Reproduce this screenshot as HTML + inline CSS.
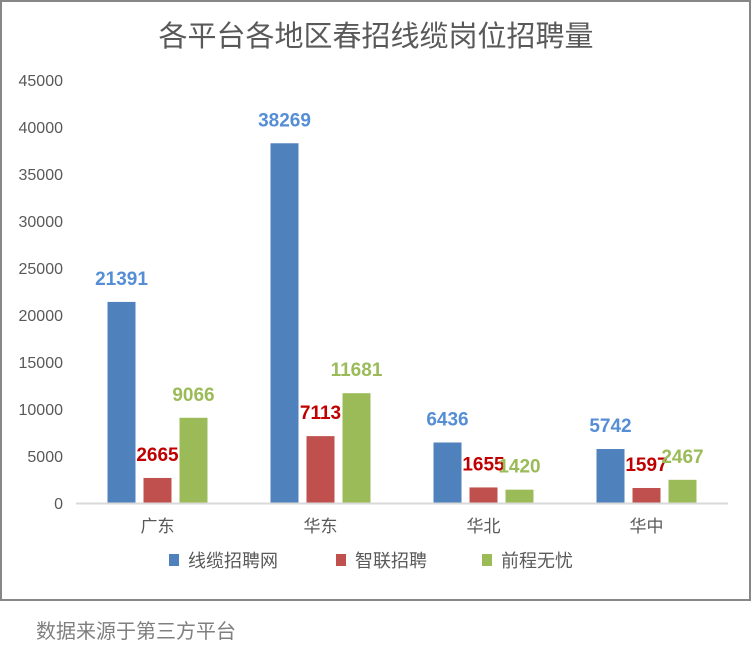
<!DOCTYPE html>
<html><head><meta charset="utf-8"><style>
body{margin:0;width:752px;height:651px;background:#fff;overflow:hidden}
text{font-family:"Liberation Sans","Noto Sans CJK SC",sans-serif}
</style></head><body>
<svg id="c" width="752" height="651">
<rect x="1" y="1" width="749" height="599" fill="#fff" stroke="#878787" stroke-width="2"/>
<text x="376" y="46" text-anchor="middle" font-size="29" fill="#595959">各平台各地区春招线缆岗位招聘量</text>
<text x="36" y="638" font-size="20" fill="#7f7f7f">数据来源于第三方平台</text>
<g id="g"></g>
</svg>
<script>
const categories=["广东","华东","华北","华中"];
const seriesNames=["线缆招聘网","智联招聘","前程无忧"];
const s1=[21391,38269,6436,5742];
const s2=[2665,7113,1655,1597];
const s3=[9066,11681,1420,2467];
const ticks=[0,5000,10000,15000,20000,25000,30000,35000,40000,45000];
const colors=["#4F81BD","#C0504D","#9BBB59"];
const labelColors=["#558ED5","#C00000","#9BBB59"];
const series=[s1,s2,s3];
const NS="http://www.w3.org/2000/svg",g=document.getElementById("g");
const x0=76,x1=728,y0=503,y1=80;
const yS=v=>y0-(v/45000)*(y0-y1);
const band=(x1-x0)/categories.length;
function mk(t,a,txt){const e=document.createElementNS(NS,t);for(const k in a)e.setAttribute(k,a[k]);if(txt!=null)e.textContent=txt;g.appendChild(e);return e;}
ticks.forEach(t=>{const e=mk("text",{x:63,y:yS(t)+6,"text-anchor":"end","font-size":16,fill:"#595959"},t);

});
categories.forEach((c,i)=>{const cx=x0+band*(i+0.5);
const e=mk("text",{x:cx,y:532,"text-anchor":"middle","font-size":17,fill:"#595959"},c);


series.forEach((s,j)=>{const bx=cx-50+j*36,by=yS(s[i]);
const r=mk("rect",{x:bx,y:by,width:28,height:y0-by,fill:colors[j]});


const l=mk("text",{x:bx+14,y:by-17,"text-anchor":"middle","font-size":19,"font-weight":"bold",fill:labelColors[j]},s[i]);

});});
const ax=mk("line",{x1:x0,x2:x1,y1:y0+0.5,y2:y0+0.5,stroke:"#d9d9d9","stroke-width":2});


const lx=[169,336,482];
seriesNames.forEach((n,j)=>{const r=mk("rect",{x:lx[j],y:554,width:10,height:12,fill:colors[j]});


const t=mk("text",{x:lx[j]+19,y:567,"font-size":18,fill:"#595959"},n);

});
</script>
</body></html>
